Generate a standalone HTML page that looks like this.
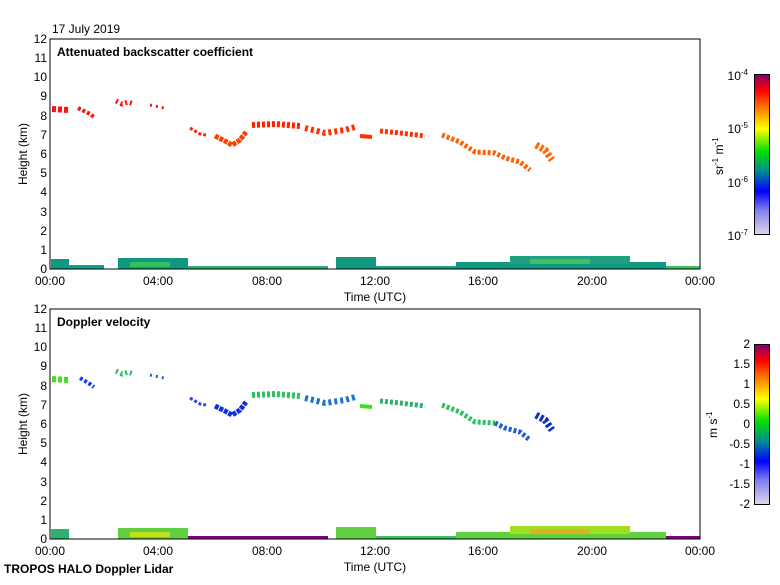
<!DOCTYPE html>
<html><head><style>
body{margin:0;background:#fff;}
svg text{font-family:"Liberation Sans",sans-serif;}
</style></head><body>
<svg width="780" height="580" xmlns="http://www.w3.org/2000/svg">
<defs>
<linearGradient id="cb" x1="0" y1="1" x2="0" y2="0">
<stop offset="0" stop-color="#dcd8e8"/><stop offset="0.15" stop-color="#8080f0"/>
<stop offset="0.27" stop-color="#0000ff"/><stop offset="0.4" stop-color="#009090"/>
<stop offset="0.52" stop-color="#00e000"/><stop offset="0.66" stop-color="#ffff00"/>
<stop offset="0.8" stop-color="#ff7000"/><stop offset="0.9" stop-color="#ff0000"/>
<stop offset="1" stop-color="#800070"/>
</linearGradient>
</defs>
<text x="52" y="33" font-size="12">17 July 2019</text>
<g id="p1">
<g fill="none" stroke-linecap="butt">
<polyline points="52,109 68,110" stroke="#ff1010" stroke-width="6" stroke-dasharray="4 2"/>
<polyline points="78,108 90,114 94,117" stroke="#ff1010" stroke-width="4" stroke-dasharray="3 2"/>
<polyline points="116,101 122,104 128,102 134,104" stroke="#ff1010" stroke-width="5" stroke-dasharray="2 3"/>
<polyline points="150,105 164,108" stroke="#ff1010" stroke-width="3" stroke-dasharray="2 4"/>
<polyline points="190,128 200,134 206,135" stroke="#ff2000" stroke-width="3" stroke-dasharray="3 2"/>
<polyline points="215,136 225,141 232,145 240,140 246,132" stroke="#ff4000" stroke-width="5" stroke-dasharray="4 1"/>
<polyline points="252,125 275,124 300,126" stroke="#ff2000" stroke-width="6" stroke-dasharray="3 2"/>
<polyline points="305,128 325,133 345,130 355,127" stroke="#ff3000" stroke-width="6" stroke-dasharray="3 3"/>
<polyline points="360,136 372,137" stroke="#ff3000" stroke-width="4"/>
<polyline points="380,131 400,133 425,136" stroke="#ff3000" stroke-width="5" stroke-dasharray="3 2"/>
<polyline points="442,135 460,142 475,152 495,153 505,158 520,162 530,170" stroke="#ff6000" stroke-width="5" stroke-dasharray="3 2"/>
<polyline points="536,145 545,150 552,160" stroke="#ff6a00" stroke-width="7" stroke-dasharray="3 2"/>
</g>
<g>
<rect x="51" y="259" width="18" height="10" fill="#109880"/>
<rect x="69" y="265" width="35" height="4" fill="#10a090"/>
<rect x="118" y="258" width="70" height="11" fill="#109880"/>
<rect x="130" y="262" width="40" height="5" fill="#30c060"/>
<rect x="188" y="266" width="140" height="3" fill="#30b070"/>
<rect x="336" y="257" width="40" height="12" fill="#109880"/>
<rect x="376" y="266" width="80" height="3" fill="#20a080"/>
<rect x="456" y="262" width="210" height="7" fill="#109880"/>
<rect x="510" y="256" width="120" height="8" fill="#20a080"/>
<rect x="530" y="259" width="60" height="5" fill="#40c060"/>
<rect x="666" y="266" width="34" height="3" fill="#40c060"/>
</g>
<rect x="50" y="39" width="650" height="230" fill="none" stroke="#000"/>
<text x="57" y="56" font-size="12" font-weight="bold">Attenuated backscatter coefficient</text>
</g>
<g id="p2">
<g fill="none">
<polyline points="52,379 68,380" stroke="#40e020" stroke-width="6" stroke-dasharray="4 2"/>
<polyline points="80,378 90,384 94,387" stroke="#1040ff" stroke-width="4" stroke-dasharray="3 2"/>
<polyline points="116,371 122,374 128,372 134,374" stroke="#20c060" stroke-width="5" stroke-dasharray="2 3"/>
<polyline points="150,375 164,378" stroke="#2060e0" stroke-width="3" stroke-dasharray="2 4"/>
<polyline points="190,398 200,404 206,405" stroke="#2040ff" stroke-width="3" stroke-dasharray="3 2"/>
<polyline points="215,406 225,411 232,415 240,410 246,402" stroke="#1030e0" stroke-width="5" stroke-dasharray="4 1"/>
<polyline points="252,395 275,394 300,396" stroke="#30c060" stroke-width="6" stroke-dasharray="3 2"/>
<polyline points="305,398 325,403 345,400 355,397" stroke="#2070d0" stroke-width="6" stroke-dasharray="3 3"/>
<polyline points="360,406 372,407" stroke="#40e020" stroke-width="4"/>
<polyline points="380,401 400,403 425,406" stroke="#30b070" stroke-width="5" stroke-dasharray="3 2"/>
<polyline points="442,405 460,412 475,422 495,423" stroke="#30c060" stroke-width="5" stroke-dasharray="3 2"/>
<polyline points="495,423 505,428 520,432 530,440" stroke="#2060d0" stroke-width="5" stroke-dasharray="3 2"/>
<polyline points="536,415 545,420 552,430" stroke="#1030c0" stroke-width="7" stroke-dasharray="3 2"/>
</g>
<g>
<rect x="51" y="529" width="18" height="10" fill="#30b070"/>
<rect x="118" y="528" width="70" height="11" fill="#60d040"/>
<rect x="130" y="532" width="40" height="5" fill="#c0e020"/>
<rect x="188" y="536" width="140" height="3" fill="#800080"/>
<rect x="336" y="527" width="40" height="12" fill="#60d040"/>
<rect x="376" y="536" width="80" height="3" fill="#40c060"/>
<rect x="456" y="532" width="210" height="7" fill="#60d040"/>
<rect x="510" y="526" width="120" height="8" fill="#a0e020"/>
<rect x="530" y="529" width="60" height="5" fill="#e0b020"/>
<rect x="666" y="536" width="34" height="3" fill="#800080"/>
</g>
<rect x="50" y="309" width="650" height="230" fill="none" stroke="#000"/>
<text x="57" y="326" font-size="12" font-weight="bold">Doppler velocity</text>
</g>
<g stroke="#000" stroke-width="1" id="ticks"></g>
<g font-size="12" text-anchor="end">
<text x="47" y="43">12</text><text x="47" y="62">11</text><text x="47" y="81">10</text><text x="47" y="100">9</text><text x="47" y="120">8</text><text x="47" y="139">7</text><text x="47" y="158">6</text><text x="47" y="177">5</text><text x="47" y="196">4</text><text x="47" y="216">3</text><text x="47" y="235">2</text><text x="47" y="254">1</text><text x="47" y="273">0</text>
<text x="47" y="313">12</text><text x="47" y="332">11</text><text x="47" y="351">10</text><text x="47" y="370">9</text><text x="47" y="390">8</text><text x="47" y="409">7</text><text x="47" y="428">6</text><text x="47" y="447">5</text><text x="47" y="466">4</text><text x="47" y="486">3</text><text x="47" y="505">2</text><text x="47" y="524">1</text><text x="47" y="543">0</text>
</g>
<g font-size="12" text-anchor="middle">
<text x="50" y="285">00:00</text><text x="158" y="285">04:00</text><text x="267" y="285">08:00</text><text x="375" y="285">12:00</text><text x="483" y="285">16:00</text><text x="592" y="285">20:00</text><text x="700" y="285">00:00</text>
<text x="375" y="301">Time (UTC)</text>
<text x="50" y="555">00:00</text><text x="158" y="555">04:00</text><text x="267" y="555">08:00</text><text x="375" y="555">12:00</text><text x="483" y="555">16:00</text><text x="592" y="555">20:00</text><text x="700" y="555">00:00</text>
<text x="375" y="571">Time (UTC)</text>
<text transform="translate(27,154) rotate(-90)">Height (km)</text>
<text transform="translate(27,424) rotate(-90)">Height (km)</text>
</g>
<text x="4" y="573" font-size="12" font-weight="bold">TROPOS HALO Doppler Lidar</text>
<rect x="754.5" y="74.5" width="15" height="160" fill="url(#cb)" stroke="#000"/>
<g font-size="12" text-anchor="end">
<text x="748" y="80">10<tspan font-size="8" dy="-5">-4</tspan></text>
<text x="748" y="133">10<tspan font-size="8" dy="-5">-5</tspan></text>
<text x="748" y="187">10<tspan font-size="8" dy="-5">-6</tspan></text>
<text x="748" y="240">10<tspan font-size="8" dy="-5">-7</tspan></text>
</g>
<text transform="translate(723,175) rotate(-90)" font-size="12">sr<tspan font-size="8" dy="-5">-1</tspan><tspan dy="5"> m</tspan><tspan font-size="8" dy="-5">-1</tspan></text>
<rect x="754.5" y="344.5" width="15" height="160" fill="url(#cb)" stroke="#000"/>
<g font-size="12" text-anchor="end">
<text x="750" y="348">2</text><text x="750" y="368">1.5</text><text x="750" y="388">1</text><text x="750" y="408">0.5</text><text x="750" y="428">0</text><text x="750" y="448">-0.5</text><text x="750" y="468">-1</text><text x="750" y="488">-1.5</text><text x="750" y="508">-2</text>
</g>
<text transform="translate(717,438) rotate(-90)" font-size="12">m s<tspan font-size="8" dy="-5">-1</tspan></text>
<script>
var g=document.getElementById('ticks'),s='';
[39,309].forEach(function(t){
for(var i=0;i<=12;i++){var y=t+i*230/12;s+='<line x1="50" x2="55" y1="'+y+'" y2="'+y+'"/><line x1="695" x2="700" y1="'+y+'" y2="'+y+'"/>';}
for(var h=4;h<24;h+=4){var x=50+h*650/24;s+='<line x1="'+x+'" x2="'+x+'" y1="'+t+'" y2="'+(t+5)+'"/><line x1="'+x+'" x2="'+x+'" y1="'+(t+225)+'" y2="'+(t+230)+'"/>';}
});
g.innerHTML=s;
</script>
</svg>
</body></html>
